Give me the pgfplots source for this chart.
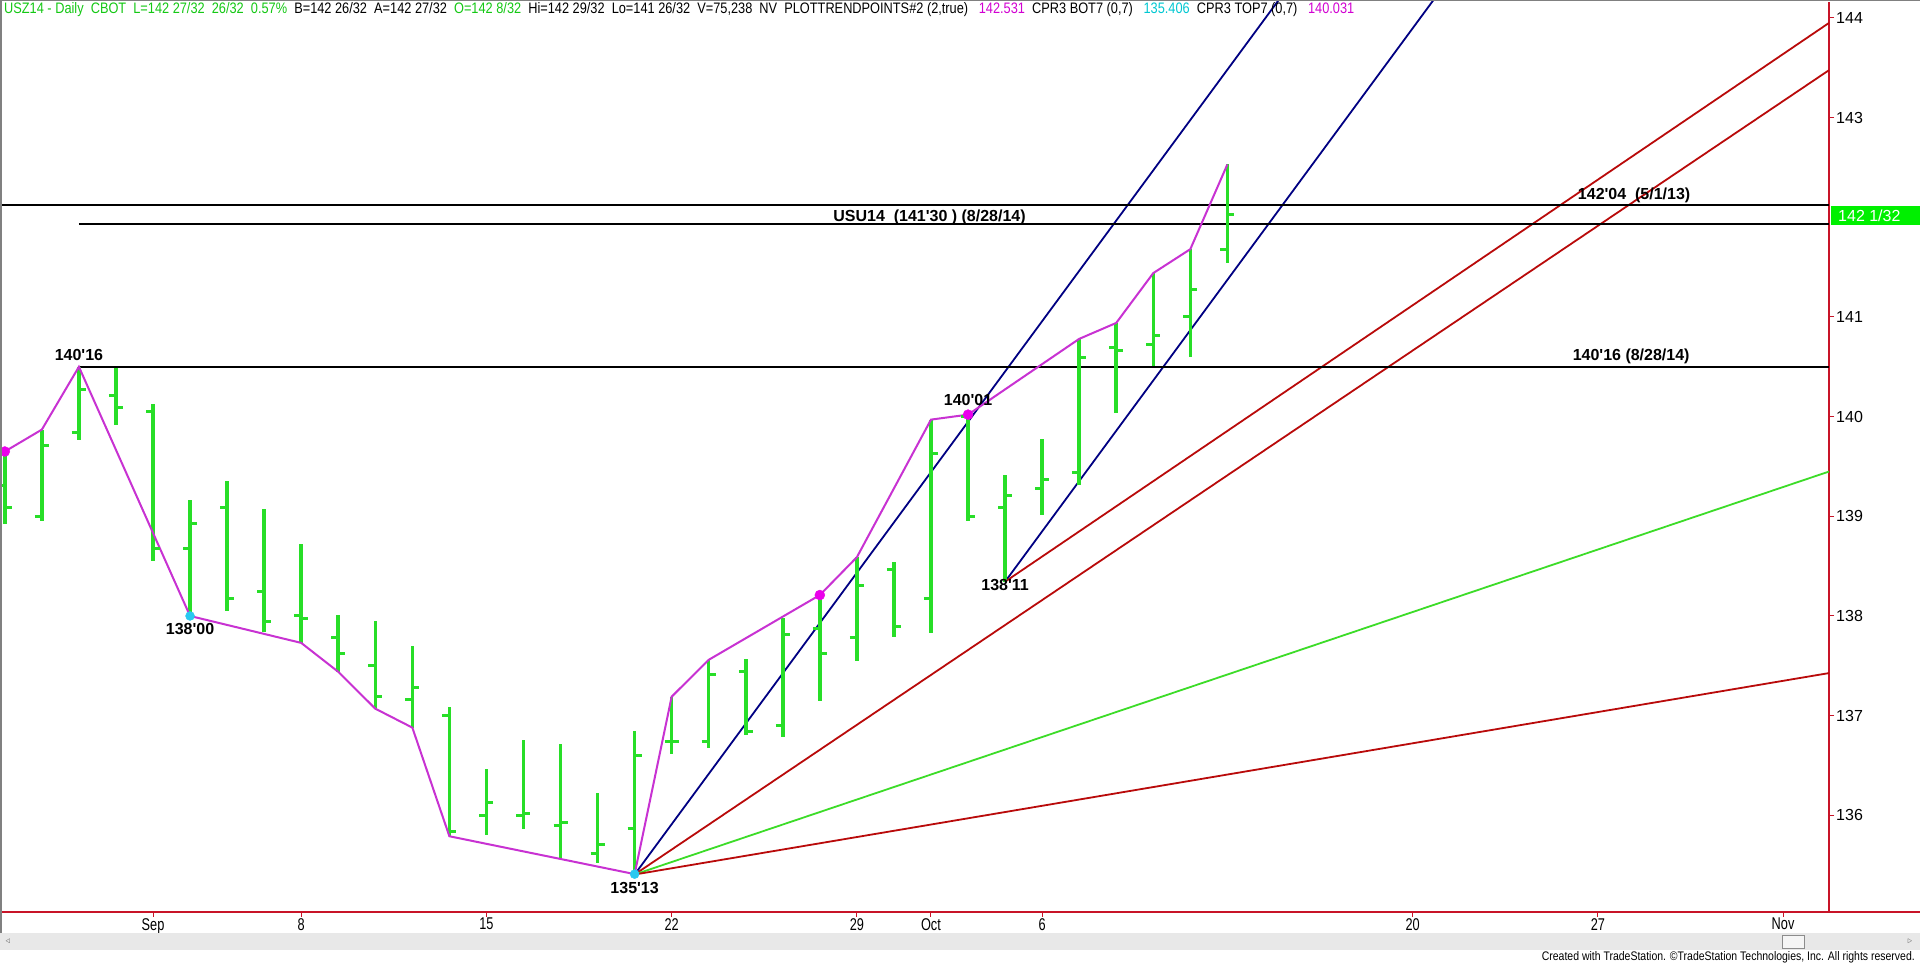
\documentclass[border=0pt]{standalone}
\usepackage{pgfplots}
\usepackage{pgfplotstable}
\pgfplotsset{compat=1.18}
\usepackage{fontspec}
\setmainfont{Liberation Sans}
\usepackage{graphicx}

\definecolor{bargreen}{RGB}{40,222,40}
\definecolor{trendmag}{RGB}{200,50,210}
\definecolor{dotmag}{RGB}{235,0,235}
\definecolor{dotcyan}{RGB}{40,200,240}
\definecolor{navyline}{RGB}{0,0,130}
\definecolor{darkred}{RGB}{185,10,10}
\definecolor{ganngreen}{RGB}{60,220,40}
\definecolor{axisred}{RGB}{200,20,40}
\definecolor{hgreen}{RGB}{20,200,20}
\definecolor{hmag}{RGB}{210,0,210}
\definecolor{hcyan}{RGB}{0,200,210}
\definecolor{boxgreen}{RGB}{0,240,0}

% open tick to the left, close tick to the right
\pgfdeclareplotmark{openl}{\pgfpathmoveto{\pgfqpoint{-7pt}{0pt}}\pgfpathlineto{\pgfqpoint{0pt}{0pt}}\pgfusepathqstroke}
\pgfdeclareplotmark{closer}{\pgfpathmoveto{\pgfqpoint{0pt}{0pt}}\pgfpathlineto{\pgfqpoint{7pt}{0pt}}\pgfusepathqstroke}

\newcommand\ap{\textquotesingle}
\newcommand\nar[1]{\scalebox{0.75}[1]{#1}}

% daily bars, x = trading day (0 = Sep 2)
\pgfplotstableread{
i  o      h      l      c
-4 139.31 139.65 138.92 139.09
-3 139.00 139.87 138.95 139.71
-2 139.84 140.50 139.77 140.27
-1 140.21 140.49 139.92 140.09
0  140.05 140.13 138.55 138.68
1  138.68 139.16 138.00 138.93
2  139.09 139.35 138.05 138.18
3  138.25 139.07 137.84 137.94
4  138.00 138.72 137.73 137.97
5  137.78 138.01 137.44 137.62
6  137.50 137.95 137.07 137.19
7  137.16 137.70 136.88 137.28
8  137.00 137.09 135.79 135.84
9  136.00 136.47 135.80 136.13
10 136.00 136.76 135.86 136.02
11 135.90 136.72 135.57 135.93
12 135.62 136.22 135.52 135.71
13 135.87 136.85 135.41 136.60
14 136.74 137.19 136.62 136.74
15 136.74 137.56 136.68 137.41
16 137.44 137.57 136.81 136.84
17 136.90 137.98 136.79 137.81
18 137.87 138.21 137.15 137.62
19 137.78 138.59 137.55 138.31
20 138.47 138.54 137.79 137.89
21 138.18 139.97 137.83 139.63
22 140.00 140.02 138.95 139.00
23 139.09 139.41 138.34 139.21
24 139.28 139.78 139.01 139.37
25 139.44 140.78 139.31 140.59
26 140.69 140.94 140.04 140.66
27 140.72 141.44 140.51 140.81
28 141.00 141.68 140.60 141.28
29 141.68 142.53 141.54 142.03
}\bars

\begin{document}
\begin{tikzpicture}
\useasboundingbox (0pt,0pt) rectangle (1920pt,964pt);
\fill[white] (0pt,0pt) rectangle (1920pt,964pt);
\begin{axis}[
    at={(0pt,52pt)}, anchor=south west,
    scale only axis, width=1829pt, height=910pt,
    xmin=-4.13, xmax=45.24,
    ymin=135.03, ymax=144.16,
    axis x line*=bottom, axis y line*=right,
    axis line style={draw=axisred, line width=1.2pt},
    tick style={axisred, line width=1pt},
    major tick length=5pt, tick align=outside,
    xtick={0,4,9,14,19,21,24,34,39,44},
    xticklabels={\nar{Sep},\nar{8},\nar{15},\nar{22},\nar{29},\nar{Oct},\nar{6},\nar{20},\nar{27},\nar{Nov}},
    ytick={136,137,138,139,140,141,143,144},
    yticklabels={136,137,138,139,140,141,143,144},
    xticklabel style={font=\fontsize{17}{19}\selectfont, inner sep=1pt},
    yticklabel style={font=\fontsize{16}{18}\selectfont, inner sep=1pt, xshift=1pt},
    clip=true,
]
% gann fans
\addplot[navyline, line width=1.8pt] coordinates {(13,135.406) (31,144.49)};
\addplot[navyline, line width=1.8pt] coordinates {(23,138.344) (35,144.40)};
\addplot[darkred, line width=1.8pt] coordinates {(13,135.406) (45.24,143.476)};
\addplot[darkred, line width=1.8pt] coordinates {(23,138.344) (45.24,143.95)};
\addplot[ganngreen, line width=1.8pt] coordinates {(13,135.406) (45.24,139.449)};
\addplot[darkred, line width=1.8pt] coordinates {(13,135.406) (45.24,137.427)};

% levels
\addplot[black, line width=2pt] coordinates {(-4.13,142.125) (45.24,142.125)};
\addplot[black, line width=2pt] coordinates {(-2,141.9375) (45.24,141.9375)};
\addplot[black, line width=2pt] coordinates {(-2,140.5) (45.24,140.5)};

% OHLC bars: high-low range as error bars around the midpoint
\addplot[draw=none, only marks, mark=*, mark size=0pt, mark options={draw=none, fill=none},
    error bars/.cd, y dir=both, y explicit,
    error mark=none, error bar style={draw=bargreen, line width=3.5pt}]
    table[x=i, y expr={(\thisrow{h}+\thisrow{l})/2}, y error expr={(\thisrow{h}-\thisrow{l})/2}] {\bars};
\addplot[only marks, mark=openl, bargreen, line width=3pt] table[x=i, y=o] {\bars};
\addplot[only marks, mark=closer, bargreen, line width=3pt] table[x=i, y=c] {\bars};

% trend points
\addplot[trendmag, line width=2pt] coordinates {
    (-4,139.65) (-3,139.87) (-2,140.50) (1,138.00) (4,137.73) (5,137.44)
    (6,137.07) (7,136.88) (8,135.79) (13,135.41) (14,137.19) (15,137.56)
    (18,138.21) (19,138.59) (21,139.97) (22,140.02) (25,140.78) (26,140.94)
    (27,141.44) (28,141.68) (29,142.53)};
\addplot[only marks, mark=*, mark size=5pt, dotmag] coordinates {(-4,139.65) (18,138.21) (22,140.02)};
\addplot[only marks, mark=*, mark size=4.5pt, dotcyan] coordinates {(1,138.00) (13,135.41)};

\begin{scope}[every node/.style={font=\bfseries\fontsize{16}{18}\selectfont, inner sep=0pt}]
\node at (axis cs:-2,140.62) {140\ap16};
\node at (axis cs:1,137.87) {138\ap00};
\node at (axis cs:13,135.27) {135\ap13};
\node at (axis cs:22,140.17) {140\ap01};
\node at (axis cs:23,138.31) {138\ap11};
\node at (axis cs:20.96,142.0) {USU14\ \ (141\ap30 ) (8/28/14)};
\node at (axis cs:39.98,142.22) {142\ap04\ \ (5/1/13)};
\node at (axis cs:39.9,140.6) {140\ap16 (8/28/14)};
\end{scope}
\end{axis}

% bottom line, scrollbar, frame
\draw[axisred, line width=1.2pt] (1829pt,52pt) -- (1920pt,52pt);
\fill[black!9] (0pt,14pt) rectangle (1920pt,31pt);
\draw[black!45, fill=black!4] (1782pt,16pt) rectangle (1804pt,29pt);
\node[black!60, font=\fontsize{9}{10}\selectfont] at (8pt,22.5pt) {\(\triangleleft\)};
\node[black!60, font=\fontsize{9}{10}\selectfont] at (1910pt,22.5pt) {\(\triangleright\)};
\draw[black!50, line width=1.5pt] (0.75pt,31pt) -- (0.75pt,963.25pt) -- (1920pt,963.25pt);

% last price box
\fill[boxgreen] (1831pt,739pt) rectangle (1920pt,758pt);
\node[white, anchor=west, inner sep=0pt, font=\fontsize{16}{18}\selectfont] at (1838pt,748.5pt) {142 1/32};

% header
\node[anchor=west, inner sep=0pt] at (4pt,954pt) {\resizebox{1350pt}{11pt}{%
{\color{hgreen}USZ14 - Daily\ \ CBOT\ \ L=142 27/32\ \ 26/32\ \ 0.57\%}\ \ B=142 26/32\ \ A=142 27/32\ \ {\color{hgreen}O=142 8/32}\ \ Hi=142 29/32\ \ Lo=141 26/32\ \ V=75,238\ \ NV\ \ PLOTTRENDPOINTS\#2 (2,true)\ \ \ {\color{hmag}142.531}\ \ CPR3 BOT7 (0,7)\ \ \ {\color{hcyan}135.406}\ \ CPR3 TOP7 (0,7)\ \ \ {\color{hmag}140.031}}};

% credit
\node[anchor=east, inner sep=0pt] at (1915pt,7pt) {\resizebox{373pt}{9pt}{Created with TradeStation. \textcopyright TradeStation Technologies, Inc. All rights reserved.}};
\end{tikzpicture}
\end{document}
